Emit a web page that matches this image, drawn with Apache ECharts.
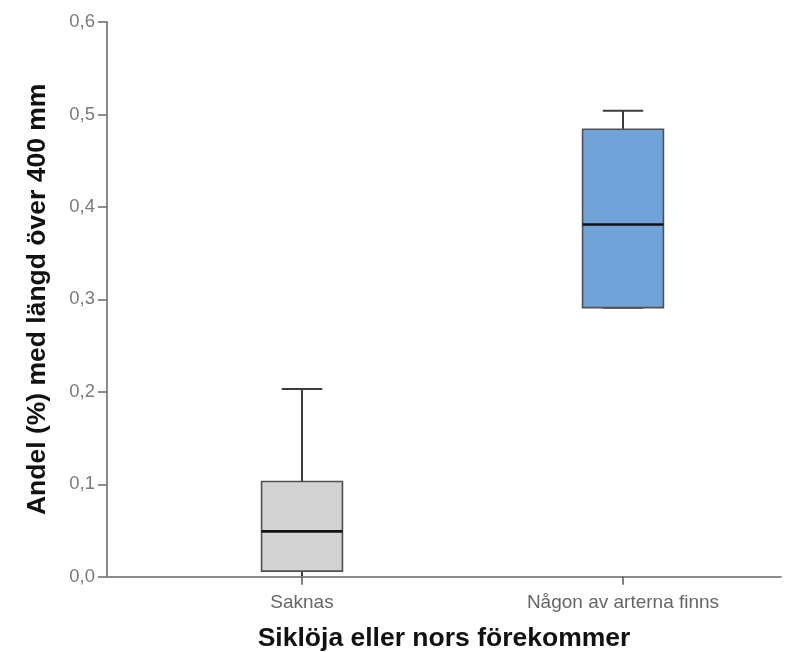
<!DOCTYPE html>
<html>
<head>
<meta charset="utf-8">
<script src="https://cdn.jsdelivr.net/npm/echarts@6/dist/echarts.min.js"></script>
<style>
  html, body { margin: 0; padding: 0; background: #ffffff; }
  #chart { width: 801px; height: 652px; }
</style>
</head>
<body>
<div id="chart"></div>
<script>
// Box plot summary per group
const categories = ['Saknas', 'Någon av arterna finns'];
const whiskerLow = [0.0, 0.291];
const quartile1 = [0.006, 0.291];
const medians = [0.049, 0.381];
const quartile3 = [0.103, 0.484];
const whiskerHigh = [0.203, 0.504];

// Y axis tick labels (decimal comma)
const yTickLabels = ['0,0', '0,1', '0,2', '0,3', '0,4', '0,5', '0,6'];

const boxFills = ['#d3d3d3', '#72a3d8'];

const FONT = '"Liberation Sans", Arial, Helvetica, sans-serif';
const AXIS_GREY = '#8c8c8c';

const boxData = categories.map((c, i) => [i, whiskerLow[i], quartile1[i], medians[i], quartile3[i], whiskerHigh[i]]);

function renderBox(params, api) {
  const i = api.value(0);
  const cx = api.coord([i, 0])[0];
  const band = api.size([1, 0])[0];
  const boxW = band * 0.252;
  const capW = boxW / 2;
  const yLow = api.coord([i, api.value(1)])[1];
  const yQ1 = api.coord([i, api.value(2)])[1];
  const yMed = api.coord([i, api.value(3)])[1];
  const yQ3 = api.coord([i, api.value(4)])[1];
  const yHigh = api.coord([i, api.value(5)])[1];
  const whisker = { stroke: '#3c3c3c', lineWidth: 2 };
  const children = [
    { type: 'line', shape: { x1: cx, y1: yQ3, x2: cx, y2: yHigh }, style: whisker },
    { type: 'line', shape: { x1: cx, y1: yQ1, x2: cx, y2: yLow }, style: whisker },
    { type: 'line', shape: { x1: cx - capW / 2, y1: yHigh, x2: cx + capW / 2, y2: yHigh }, style: whisker }
  ];
  // a lower cap sitting on the baseline is covered by the axis line
  if (api.value(1) > 0) {
    children.push({ type: 'line', shape: { x1: cx - capW / 2, y1: yLow, x2: cx + capW / 2, y2: yLow }, style: whisker });
  }
  children.push(
    { type: 'rect', shape: { x: cx - boxW / 2, y: yQ3, width: boxW, height: yQ1 - yQ3 },
      style: { fill: boxFills[i], stroke: '#505050', lineWidth: 1.6 } },
    { type: 'line', shape: { x1: cx - boxW / 2, y1: yMed, x2: cx + boxW / 2, y2: yMed },
      style: { stroke: '#111111', lineWidth: 2.6 } }
  );
  return { type: 'group', children: children };
}

const chart = echarts.init(document.getElementById('chart'), null, { renderer: 'canvas' });
chart.setOption({
  backgroundColor: '#ffffff',
  animation: false,
  grid: [
    { left: 107, right: 20, top: 22, bottom: 75.3, outerBoundsMode: 'none', containLabel: false },
    { left: 141.5, right: 17.5, top: 22, bottom: 75.3, outerBoundsMode: 'none', containLabel: false }
  ],
  xAxis: [
    {
      gridIndex: 0, type: 'value', min: 0, max: 1, z: 5,
      axisLine: { show: true, lineStyle: { color: AXIS_GREY, width: 2 } },
      axisTick: { show: false }, axisLabel: { show: false }, splitLine: { show: false },
      name: 'Siklöja eller nors förekommer', nameLocation: 'middle', nameGap: 48,
      nameTextStyle: { fontFamily: FONT, fontSize: 26.5, fontWeight: 'bold', color: '#111111' }
    },
    {
      gridIndex: 1, type: 'category', data: categories, z: 5,
      axisLine: { show: false },
      axisTick: { show: true, alignWithLabel: true, length: 8, lineStyle: { color: '#555555', width: 1.5 } },
      axisLabel: { fontFamily: FONT, fontSize: 19, color: '#666666', margin: 17 },
      splitLine: { show: false }
    }
  ],
  yAxis: [
    {
      gridIndex: 0, type: 'value', min: 0, max: 0.6, interval: 0.1, z: 5,
      axisLine: { show: true, lineStyle: { color: AXIS_GREY, width: 2 } },
      axisTick: { show: true, length: 9, lineStyle: { color: '#6a6a6a', width: 1.5 } },
      axisLabel: {
        fontFamily: FONT, fontSize: 18.5, color: '#7a7a7a', margin: 12, padding: [6, 0, 0, 0],
        formatter: (v) => yTickLabels[Math.round(v * 10)]
      },
      splitLine: { show: false },
      name: 'Andel (%) med längd över 400 mm', nameLocation: 'middle', nameGap: 56,
      nameTextStyle: { fontFamily: FONT, fontSize: 26.5, fontWeight: 'bold', color: '#111111' }
    },
    {
      gridIndex: 1, type: 'value', min: 0, max: 0.6, interval: 0.1, show: false
    }
  ],
  series: [
    {
      type: 'custom',
      xAxisIndex: 1, yAxisIndex: 1,
      renderItem: renderBox,
      encode: { x: 0, y: [1, 2, 3, 4, 5] },
      data: boxData
    }
  ]
});
</script>
</body>
</html>
